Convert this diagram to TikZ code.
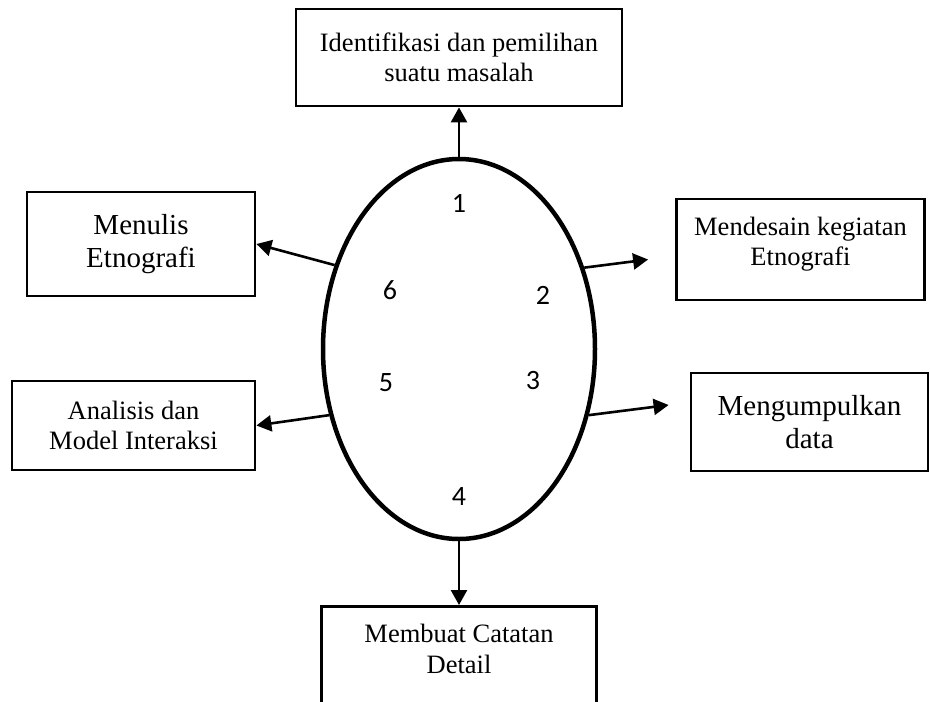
\documentclass[tikz,border=0pt]{standalone}
\usepackage{fontspec}
\setmainfont{Liberation Serif}
\newfontfamily\numfont{Carlito}
\usetikzlibrary{shapes.geometric,arrows.meta}

\begin{document}
\begin{tikzpicture}[
    x=1pt, y=-1pt,
    box/.style={draw, line width=2.8pt, align=center, inner sep=0pt,
        font=\fontsize{26.5}{30.5}\selectfont},
    bigbox/.style={box, font=\fontsize{29}{33}\selectfont},
    num/.style={font=\numfont\fontsize{28}{32}\selectfont},
    link/.style={line width=2.6pt, -{Triangle[width=16pt,length=15pt]}}
]
\useasboundingbox (0,0) rectangle (930,702);

% Central cycle
\node[draw, ellipse, line width=4.5pt, minimum width=272pt, minimum height=380pt,
    inner sep=0pt] (ring) at (459,349) {};

\node[num] (n1) at (459,203) {1};
\node[num] (n2) at (543,295) {2};
\node[num] (n3) at (533,381) {3};
\node[num] (n4) at (459,497) {4};
\node[num] (n5) at (386,383) {5};
\node[num] (n6) at (390,290) {6};

% Steps
\node[box, minimum width=326pt, minimum height=97pt] (identifikasi) at (459,57.5)
    {Identifikasi dan pemilihan\\suatu masalah};
\node[bigbox, minimum width=228pt, minimum height=104pt] (menulis) at (141,244)
    {Menulis\\Etnografi};
\node[box, minimum width=248pt, minimum height=101pt] (mendesain) at (800.5,249.5)
    {Mendesain kegiatan\\Etnografi\\[-14pt]};
\node[box, minimum width=243pt, minimum height=89pt] (analisis) at (133.5,425.5)
    {Analisis dan\\Model Interaksi};
\node[bigbox, minimum width=237pt, minimum height=98pt] (mengumpulkan) at (809.5,422)
    {Mengumpulkan\\data};
\node[box, minimum width=275pt, minimum height=150pt, anchor=north] (catatan) at (459,605) {};
\node[box, draw=none] (catatantext) at (459,649) {Membuat Catatan\\Detail};

% Arrows
\draw[link] (ring.north) -- (identifikasi.south);
\draw[link] (ring.146) -- (menulis.east);
\draw[link] (ring.33) -- ([xshift=-27pt,yshift=-10pt]mendesain.west);
\draw[link] (ring.207) -- (analisis.east);
\draw[link] (ring.333) -- ([xshift=-21pt,yshift=17pt]mengumpulkan.west);
\draw[link] (ring.south) -- (catatan.north);

\end{tikzpicture}
\end{document}
